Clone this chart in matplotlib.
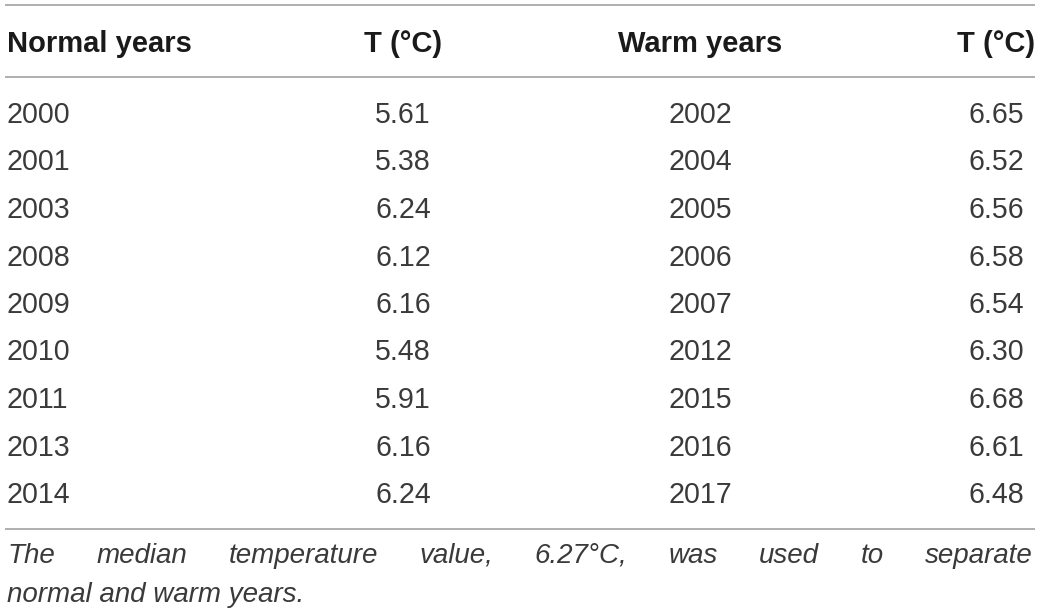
import matplotlib
matplotlib.use("Agg")
from matplotlib import pyplot as plt

plt.rcParams["font.family"] = ["Liberation Sans", "DejaVu Sans"]

headers = ["Normal years", "T (\u00b0C)", "Warm years", "T (\u00b0C)"]
normal_years = ["2000", "2001", "2003", "2008", "2009", "2010", "2011", "2013", "2014"]
normal_temps = [5.61, 5.38, 6.24, 6.12, 6.16, 5.48, 5.91, 6.16, 6.24]
warm_years = ["2002", "2004", "2005", "2006", "2007", "2012", "2015", "2016", "2017"]
warm_temps = [6.65, 6.52, 6.56, 6.58, 6.54, 6.30, 6.68, 6.61, 6.48]
caption_first = "The median temperature value, 6.27\u00b0C, was used to separate"
caption_second = "normal and warm years."

W, H = 1040, 612
FS = 20.6
FS_HEAD = 21
FS_CAP = 20
BODY = "#3a3a3a"
HEAD = "#1a1a1a"
RULE = "#9a9a9a"

# column anchors (pixels) and alignment
col_x = [7, 403, 700, 996]
col_ha = ["left", "center", "center", "center"]

fig = plt.figure(figsize=(W / 100, H / 100), dpi=100)
ax = fig.add_axes([0, 0, 1, 1])
ax.set_xlim(0, W)
ax.set_ylim(H, 0)
ax.axis("off")

for y in (5, 77, 529):
    ax.plot([5, 1035], [y, y], color=RULE, lw=1.1, solid_capstyle="butt")

for x, ha, lab in zip(col_x, col_ha, headers):
    ax.text(x, 52, lab, ha=ha, va="baseline", fontsize=FS_HEAD,
            fontweight="bold", color=HEAD)

columns = [normal_years, ["%.2f" % t for t in normal_temps],
           warm_years, ["%.2f" % t for t in warm_temps]]
for x, ha, col in zip(col_x, col_ha, columns):
    for i, val in enumerate(col):
        ax.text(x, 123 + i * 47.5, val, ha=ha, va="baseline",
                fontsize=FS, color=BODY)

# justified first caption line
renderer = fig.canvas.get_renderer()
words = caption_first.split()
arts = [ax.text(0, 563, w, ha="left", va="baseline", fontsize=FS_CAP,
                style="italic", color=BODY) for w in words]
widths = [a.get_window_extent(renderer).width for a in arts]
left, right = 7, 1033
gap = (right - left - sum(widths)) / (len(words) - 1)
pos = left
for a, w in zip(arts, widths):
    a.set_x(pos)
    pos += w + gap

ax.text(7, 602, caption_second, ha="left", va="baseline", fontsize=FS_CAP,
        style="italic", color=BODY)

fig.savefig("out.png", dpi=100)
